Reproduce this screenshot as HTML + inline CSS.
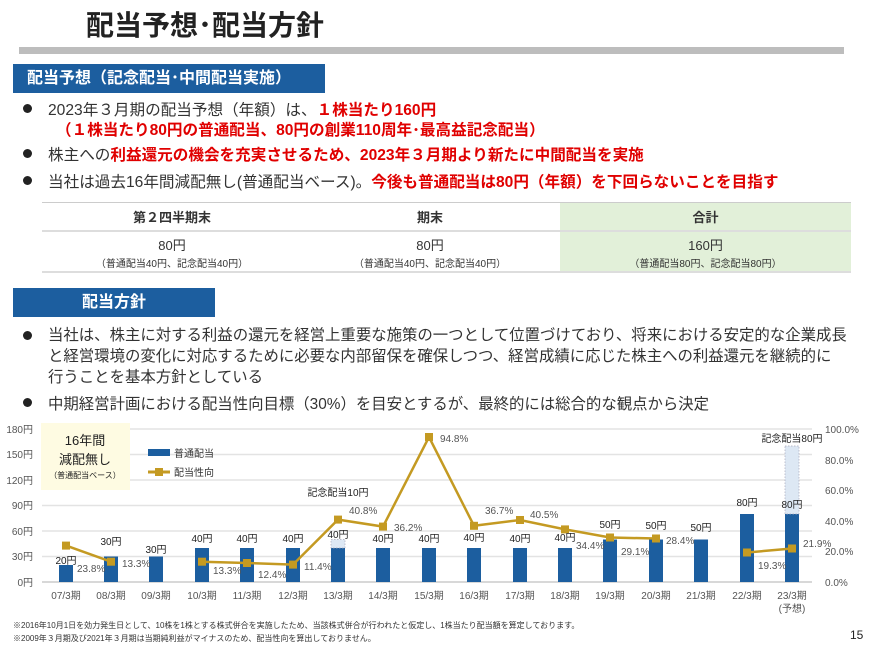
<!DOCTYPE html>
<html><head><meta charset="utf-8"><style>
body{margin:0;width:877px;height:646px;background:#fff;font-family:"Liberation Sans","Noto Sans CJK JP",sans-serif;position:relative;overflow:hidden;color:#333}
.a{position:absolute;white-space:nowrap}
.r{color:#e00000;font-weight:bold}
.hd{position:absolute;background:#1c5e9f;color:#fff;font-weight:bold;font-size:16px;line-height:29px}
.dot{position:absolute;width:9px;height:9px;border-radius:50%;background:#222}
</style></head><body>
<div class="a" style="left:86px;top:4px;font-size:28px;font-weight:bold;color:#222">配当予想･配当方針</div>
<div class="a" style="left:19px;top:47px;width:825px;height:7px;background:#bdbdbd"></div>
<div class="hd" style="left:13px;top:64px;width:312px;padding-left:14px;box-sizing:border-box">配当予想（記念配当･中間配当実施）</div>
<div class="dot" style="left:23px;top:104px"></div>
<div class="a" style="left:48px;top:98px;font-size:15.6px">2023年３月期の配当予想（年額）は、<span class="r">１株当たり160円</span></div>
<div class="a r" style="left:56px;top:118px;font-size:15.6px">（１株当たり80円の普通配当、80円の創業110周年･最高益記念配当）</div>
<div class="dot" style="left:23px;top:149px"></div>
<div class="a" style="left:48px;top:143px;font-size:15.6px">株主への<span class="r">利益還元の機会を充実させるため、2023年３月期より新たに中間配当を実施</span></div>
<div class="dot" style="left:23px;top:176px"></div>
<div class="a" style="left:48px;top:170px;font-size:15.6px">当社は過去16年間減配無し(普通配当ベース)。<span class="r">今後も普通配当は80円（年額）を下回らないことを目指す</span></div>
<div class="a" style="left:560px;top:203px;width:291px;height:69px;background:#e2f0d9"></div>
<div class="a" style="left:42px;top:202px;width:809px;height:1px;background:#ccc"></div>
<div class="a" style="left:42px;top:230px;width:809px;height:2px;background:#ddd"></div>
<div class="a" style="left:42px;top:271px;width:809px;height:2px;background:#ddd"></div>
<div class="a" style="left:42px;top:207px;width:260px;text-align:center;font-size:13px;font-weight:bold">第２四半期末</div>
<div class="a" style="left:300px;top:207px;width:260px;text-align:center;font-size:13px;font-weight:bold">期末</div>
<div class="a" style="left:560px;top:207px;width:291px;text-align:center;font-size:13px;font-weight:bold">合計</div>
<div class="a" style="left:42px;top:235px;width:260px;text-align:center;font-size:13px">80円</div>
<div class="a" style="left:300px;top:235px;width:260px;text-align:center;font-size:13px">80円</div>
<div class="a" style="left:560px;top:235px;width:291px;text-align:center;font-size:13px">160円</div>
<div class="a" style="left:42px;top:255px;width:260px;text-align:center;font-size:10px">（普通配当40円、記念配当40円）</div>
<div class="a" style="left:300px;top:255px;width:260px;text-align:center;font-size:10px">（普通配当40円、記念配当40円）</div>
<div class="a" style="left:560px;top:255px;width:291px;text-align:center;font-size:10px">（普通配当80円、記念配当80円）</div>
<div class="hd" style="left:13px;top:288px;width:202px;text-align:center">配当方針</div>
<div class="dot" style="left:23px;top:331px"></div>
<div class="a" style="left:48px;top:325px;font-size:15.4px;line-height:21px">当社は、株主に対する利益の還元を経営上重要な施策の一つとして位置づけており、将来における安定的な企業成長<br>と経営環境の変化に対応するために必要な内部留保を確保しつつ、経営成績に応じた株主への利益還元を継続的に<br>行うことを基本方針としている</div>
<div class="dot" style="left:23px;top:398px"></div>
<div class="a" style="left:48px;top:392px;font-size:15.4px">中期経営計画における配当性向目標（30%）を目安とするが、最終的には総合的な観点から決定</div>
<svg class="a" style="left:0;top:0" width="877" height="646" font-family="Liberation Sans,Noto Sans CJK JP,sans-serif">
<g stroke="#e3e3e3" stroke-width="1.5">
<line x1="42" x2="812" y1="429" y2="429"/><line x1="42" x2="812" y1="454.5" y2="454.5"/><line x1="42" x2="812" y1="480" y2="480"/><line x1="42" x2="812" y1="505.5" y2="505.5"/><line x1="42" x2="812" y1="531" y2="531"/><line x1="42" x2="812" y1="556.5" y2="556.5"/>
</g>
<line x1="42" x2="812" y1="582" y2="582" stroke="#ccc" stroke-width="1.5"/>
<g font-size="10" fill="#555" text-anchor="end">
<text x="33" y="433">180円</text><text x="33" y="458">150円</text><text x="33" y="484">120円</text><text x="33" y="509">90円</text><text x="33" y="535">60円</text><text x="33" y="560">30円</text><text x="33" y="586">0円</text>
</g>
<g font-size="10" fill="#555">
<text x="825" y="433">100.0%</text><text x="825" y="464">80.0%</text><text x="825" y="494">60.0%</text><text x="825" y="525">40.0%</text><text x="825" y="555">20.0%</text><text x="825" y="586">0.0%</text>
</g>
<rect x="41" y="423" width="89" height="67" fill="#fefbe2"/>
<text x="85" y="445" font-size="13" text-anchor="middle" fill="#222">16年間</text>
<text x="85" y="464" font-size="13" text-anchor="middle" fill="#222">減配無し</text>
<text x="85" y="478" font-size="8" text-anchor="middle" fill="#222">（普通配当ベース）</text>
<rect x="148" y="449" width="22" height="7" fill="#1c5e9f"/>
<text x="174" y="457" font-size="10" fill="#333">普通配当</text>
<line x1="148" x2="170" y1="472" y2="472" stroke="#c49a22" stroke-width="3"/>
<rect x="155" y="468" width="8" height="8" fill="#c49a22"/>
<text x="174" y="476" font-size="10" fill="#333">配当性向</text>
<g fill="#1c5e9f">
<rect x="59" y="565" width="14" height="17"/>
<rect x="104" y="556.5" width="14" height="25.5"/>
<rect x="149" y="556.5" width="14" height="25.5"/>
<rect x="195" y="548" width="14" height="34"/>
<rect x="240" y="548" width="14" height="34"/>
<rect x="286" y="548" width="14" height="34"/>
<rect x="331" y="548" width="14" height="34"/>
<rect x="376" y="548" width="14" height="34"/>
<rect x="422" y="548" width="14" height="34"/>
<rect x="467" y="548" width="14" height="34"/>
<rect x="513" y="548" width="14" height="34"/>
<rect x="558" y="548" width="14" height="34"/>
<rect x="603" y="539.5" width="14" height="42.5"/>
<rect x="649" y="539.5" width="14" height="42.5"/>
<rect x="694" y="539.5" width="14" height="42.5"/>
<rect x="740" y="514" width="14" height="68"/>
<rect x="785" y="514" width="14" height="68"/>
</g>
<rect x="331" y="539.5" width="14" height="8.5" fill="#dde8f4" stroke="#aab" stroke-dasharray="1.5,1.5" stroke-width="0.7"/>
<rect x="785" y="446" width="14" height="68" fill="#dde8f4" stroke="#aab" stroke-dasharray="1.5,1.5" stroke-width="0.7"/>
<g fill="none" stroke="#c49a22" stroke-width="2.5">
<polyline points="66,545.6 111,561.7"/>
<polyline points="202,561.7 247,563 293,564.6 338,519.6 383,526.6 429,437 474,525.8 520,520 565,529.4 610,537.5 656,538.5"/>
<polyline points="747,552.5 792,548.5"/>
</g>
<g fill="#c49a22">
<rect x="62" y="541.6" width="8" height="8"/><rect x="107" y="557.7" width="8" height="8"/>
<rect x="198" y="557.7" width="8" height="8"/><rect x="243" y="559" width="8" height="8"/><rect x="289" y="560.6" width="8" height="8"/><rect x="334" y="515.6" width="8" height="8"/><rect x="379" y="522.6" width="8" height="8"/><rect x="425" y="433" width="8" height="8"/><rect x="470" y="521.8" width="8" height="8"/><rect x="516" y="516" width="8" height="8"/><rect x="561" y="525.4" width="8" height="8"/><rect x="606" y="533.5" width="8" height="8"/><rect x="652" y="534.5" width="8" height="8"/><rect x="743" y="548.5" width="8" height="8"/><rect x="788" y="544.5" width="8" height="8"/>
</g>
<g font-size="10" fill="#222" text-anchor="middle">
<text x="66" y="564">20円</text><text x="111" y="545">30円</text><text x="156" y="553">30円</text><text x="202" y="542">40円</text><text x="247" y="542">40円</text><text x="293" y="542">40円</text><text x="338" y="538">40円</text><text x="383" y="542">40円</text><text x="429" y="542">40円</text><text x="474" y="541">40円</text><text x="520" y="542">40円</text><text x="565" y="541">40円</text><text x="610" y="528">50円</text><text x="656" y="529">50円</text><text x="701" y="531">50円</text><text x="747" y="506">80円</text><text x="792" y="508">80円</text>
<text x="338" y="496">記念配当10円</text><text x="792" y="442">記念配当80円</text>
</g>
<g font-size="10" fill="#555">
<text x="77" y="572">23.8%</text><text x="122" y="567">13.3%</text><text x="213" y="574">13.3%</text><text x="258" y="578">12.4%</text><text x="304" y="570">11.4%</text><text x="349" y="514">40.8%</text><text x="394" y="531">36.2%</text><text x="440" y="442">94.8%</text><text x="485" y="514">36.7%</text><text x="530" y="518">40.5%</text><text x="576" y="549">34.4%</text><text x="621" y="555">29.1%</text><text x="666" y="544">28.4%</text><text x="758" y="569">19.3%</text><text x="803" y="547">21.9%</text>
</g>
<g font-size="10" fill="#555" text-anchor="middle">
<text x="66" y="599">07/3期</text><text x="111" y="599">08/3期</text><text x="156" y="599">09/3期</text><text x="202" y="599">10/3期</text><text x="247" y="599">11/3期</text><text x="293" y="599">12/3期</text><text x="338" y="599">13/3期</text><text x="383" y="599">14/3期</text><text x="429" y="599">15/3期</text><text x="474" y="599">16/3期</text><text x="520" y="599">17/3期</text><text x="565" y="599">18/3期</text><text x="610" y="599">19/3期</text><text x="656" y="599">20/3期</text><text x="701" y="599">21/3期</text><text x="747" y="599">22/3期</text><text x="792" y="599">23/3期</text><text x="792" y="612">(予想)</text>
</g>
<text x="13" y="628" font-size="8" fill="#333">※2016年10月1日を効力発生日として、10株を1株とする株式併合を実施したため、当該株式併合が行われたと仮定し、1株当たり配当額を算定しております。</text>
<text x="13" y="641" font-size="8" fill="#333">※2009年３月期及び2021年３月期は当期純利益がマイナスのため、配当性向を算出しておりません。</text>
<text x="850" y="639" font-size="12" fill="#222">15</text>
</svg>
</body></html>
